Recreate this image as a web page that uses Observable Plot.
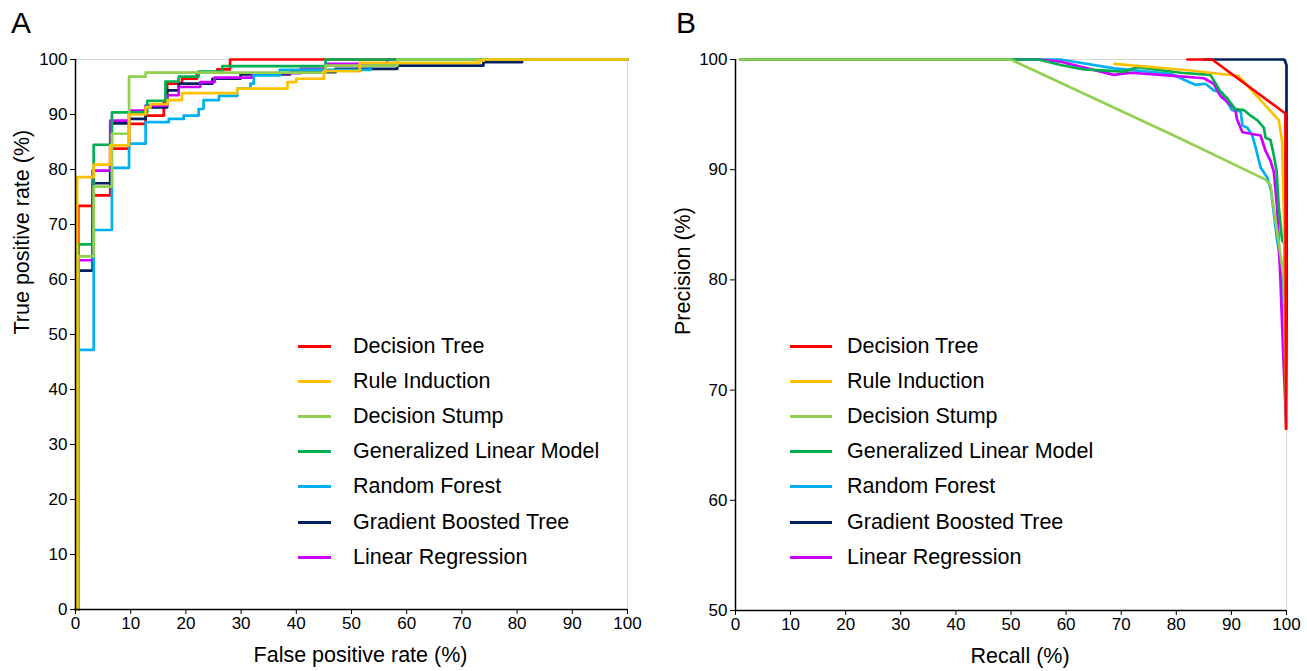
<!DOCTYPE html>
<html><head><meta charset="utf-8">
<script src="https://cdn.jsdelivr.net/npm/d3@7"></script>
<script src="https://cdn.jsdelivr.net/npm/@observablehq/plot@0.6"></script>
<style>
body{margin:0;background:#fff;}
#wrap{position:relative;width:1307px;height:671px;font-family:"Liberation Sans",Arial,sans-serif;color:#000;}
.panel{position:absolute;top:0;}
.plabel{position:absolute;font-size:30px;line-height:30px;}
.legend{position:absolute;font-size:21.5px;}
.legend .row{display:flex;align-items:center;height:35.2px;}
.legend .sw{height:3px;}
</style>
</head><body>
<div id="wrap"></div>
<script>
// ---------- data ----------
const models = ["Decision Tree","Rule Induction","Decision Stump","Generalized Linear Model","Random Forest","Gradient Boosted Tree","Linear Regression"];
const colors = ["#ff0000","#ffc000","#92d050","#00b050","#00b0f0","#002060","#cc00ff"];
const xTicks = [0,10,20,30,40,50,60,70,80,90,100];
const rocYTicks = [0,10,20,30,40,50,60,70,80,90,100];
const prYTicks = [50,60,70,80,90,100];

// ROC curves (step corners: false positive rate %, true positive rate %)
const rocFprDT  = [0,0.5,3.1,6.3,9.7,12.7,16,16.6,19.3,22,25.7,28,100];
const rocTprDT  = [0,73.4,75.3,83.8,88.3,89.8,92.2,95.6,96.5,97.6,98.2,100,100];
const rocFprRI  = [0,0.3,3.3,6.3,9.7,12.7,13.6,16.7,19.3,29.3,38.4,40,45,51.5,73.2,74,100];
const rocTprRI  = [0,78.6,80.9,84.4,90,91.3,91.9,92.6,93.9,94.7,95.9,96.5,97.9,99.4,99.8,100,100];
const rocFprDS  = [0,0.5,3.3,6.6,9.7,12.7,45.3,58.3,100];
const rocTprDS  = [0,64.2,76.9,86.5,96.9,97.6,98.9,100,100];
const rocFprGLM = [0,0.5,3.3,6.6,13,16.3,18.7,22.3,26.6,45.3,100];
const rocTprGLM = [0,66.4,84.5,90.4,92.5,96,96.9,97.8,98.8,100,100];
const rocFprRF  = [0,0.5,3.3,6.6,9.7,12.7,16.9,19.6,22.3,23.2,26,29.3,31.7,32.3,37,53.4,58.3,100];
const rocTprRF  = [0,47.2,69,80.3,84.7,88.6,89.2,89.8,91,92.6,93.4,94.7,95.6,97.1,98.1,99,100,100];
const rocFprGBT = [0,0.5,3.1,6.3,9.7,12.7,16.6,18.7,24.8,29.9,38.9,47.1,58.3,73.9,80.9,100];
const rocTprGBT = [0,61.6,77.5,88.4,89.2,91.3,94.4,95.6,96.5,97.3,97.7,98.3,98.9,99.5,100,100];
const rocFprLR  = [0,0.5,3.1,6.3,9.7,12.7,16.6,18.7,22.6,25.2,32,40.8,45.3,56.5,100];
const rocTprLR  = [0,63.5,79.8,88.9,90.7,91.6,93.5,95,95.9,96.7,97.5,98.3,99.2,100,100];

// Precision-recall curves (recall %, precision %)
const prRecDT  = [82,86.5,99.8,99.9];
const prPreDT  = [100,100,95.1,66.5];
const prRecRI  = [68.8,82.6,91.3,98.6,99.2,99.8,100];
const prPreRI  = [99.6,99.0,98.5,94.5,92.6,80,66.5];
const prRecDS  = [0.9,49.9,80.8,96.2,97.1,99.5,100];
const prPreDS  = [100,100,92.8,89.1,88.6,80.2,66.5];
const prRecGLM = [0.9,55,59,63.2,70.5,72.9,80.8,86.2,88,89.2,90.7,92.3,93.5,94.7,95.9,96.2,97.1,97.7,98.2,98.6,99.2,99.6,100];
const prPreGLM = [100,100,99.5,99.1,98.9,99.3,98.8,98.6,97.1,96.5,95.5,95.4,94.9,94.5,93.8,92.9,92.7,91.3,89.9,86.6,83.6,83.3,66.5];
const prRecRF  = [0.9,59,68.7,79,82.6,83.5,85.3,86.8,88.3,90.1,91.7,92,92.9,93.8,94.4,95.3,96.5,97.2,98.3,99.2,100];
const prPreRF  = [100,100,99.2,98.7,97.9,97.7,97.8,97.2,97,95.4,95.3,94,93.8,93.1,92,90.2,89.3,88.1,83.6,80.9,66.5];
const prRecGBT = [85.1,99.6,100,100];
const prPreGBT = [100,100,99.5,66.5];
const prRecLR  = [0.9,55,59,68.7,71.7,80.2,85,86.8,88,90.7,91,92,95.3,96.2,97.1,97.7,98.3,98.9,99.5,100];
const prPreLR  = [100,100,99.8,98.6,98.8,98.5,98.3,97.8,96.7,95.5,94.6,93.4,93.1,91.7,90.8,89.8,86.6,80,72.1,66.5];

const rocX = [rocFprDT,rocFprRI,rocFprDS,rocFprGLM,rocFprRF,rocFprGBT,rocFprLR];
const rocY = [rocTprDT,rocTprRI,rocTprDS,rocTprGLM,rocTprRF,rocTprGBT,rocTprLR];
const prX = [prRecDT,prRecRI,prRecDS,prRecGLM,prRecRF,prRecGBT,prRecLR];
const prY = [prPreDT,prPreRI,prPreDS,prPreGLM,prPreRF,prPreGBT,prPreLR];

// ---------- drawing ----------
const tickFont = {fontFamily:"'Liberation Sans',Arial,sans-serif", fontSize:"17px"};
const wrap = document.getElementById("wrap");

function panel({xs, ys, order, curve, yDomain, yTicks, xLabel, yLabel, width, ml, mr, mt, mb, ylabDx}) {
  const marks = [Plot.frame({stroke:"#d6d6d6", strokeWidth:1})];
  for (const i of order) {
    const rows = d3.zip(xs[i], ys[i]);
    marks.push(Plot.line(rows, {x:d=>d[0], y:d=>d[1], stroke:colors[i], strokeWidth:2.7, curve, strokeLinejoin:"round"}));
  }
  marks.push(
    Plot.ruleX([0], {stroke:"#000", strokeWidth:1.5}),
    Plot.ruleY([yDomain[0]], {stroke:"#000", strokeWidth:1.5}),
    Plot.axisX({ticks:xTicks, tickSize:5, tickPadding:2, tickFormat:d=>String(d), label:null, ...tickFont}),
    Plot.axisY({ticks:yTicks, tickSize:5, tickPadding:3, tickFormat:d=>String(d), label:null, ...tickFont}),
    Plot.text([xLabel], {frameAnchor:"bottom", text:d=>d, dy:46, dx:9, fontSize:21.5, lineAnchor:"middle", fontFamily:"'Liberation Sans',Arial,sans-serif"}),
    Plot.text([yLabel], {frameAnchor:"left", text:d=>d, dx:ylabDx, rotate:-90, fontSize:21.5, lineAnchor:"middle", fontFamily:"'Liberation Sans',Arial,sans-serif"})
  );
  return Plot.plot({
    width, height:671, marginLeft:ml, marginRight:mr, marginTop:mt, marginBottom:mb,
    x:{domain:[0,100]}, y:{domain:yDomain},
    style:{background:"#fff", color:"#000", fontFamily:"'Liberation Sans',Arial,sans-serif"},
    marks
  });
}

const svgA = panel({xs:rocX, ys:rocY, order:[0,5,6,4,3,2,1], curve:"step-after", yDomain:[0,100], yTicks:rocYTicks,
  xLabel:"False positive rate (%)", yLabel:"True positive rate (%)", width:653, ml:75, mr:26, mt:59, mb:62, ylabDx:-53});
const svgB = panel({xs:prX, ys:prY, order:[5,4,6,3,2,1,0], curve:"linear", yDomain:[50,100], yTicks:prYTicks,
  xLabel:"Recall (%)", yLabel:"Precision (%)", width:654, ml:82, mr:21, mt:59, mb:61, ylabDx:-52});

const dA = document.createElement("div"); dA.className="panel"; dA.style.left="0px"; dA.appendChild(svgA); wrap.appendChild(dA);
const dB = document.createElement("div"); dB.className="panel"; dB.style.left="653px"; dB.appendChild(svgB); wrap.appendChild(dB);

function label(t, x, y){ const d=document.createElement("div"); d.className="plabel"; d.textContent=t; d.style.left=x+"px"; d.style.top=y+"px"; wrap.appendChild(d); }
label("A", 11, 8); label("B", 676, 8);

function legend(x, y, swW, gap){
  const L=document.createElement("div"); L.className="legend"; L.style.left=x+"px"; L.style.top=y+"px";
  models.forEach((m,i)=>{
    const r=document.createElement("div"); r.className="row";
    const s=document.createElement("span"); s.className="sw"; s.style.width=swW+"px"; s.style.marginRight=gap+"px"; s.style.background=colors[i];
    const t=document.createElement("span"); t.textContent=m;
    r.appendChild(s); r.appendChild(t); L.appendChild(r);
  });
  wrap.appendChild(L);
}
legend(298, 328.5, 33, 22);
legend(790, 328.5, 42, 15);
</script>
</body></html>
